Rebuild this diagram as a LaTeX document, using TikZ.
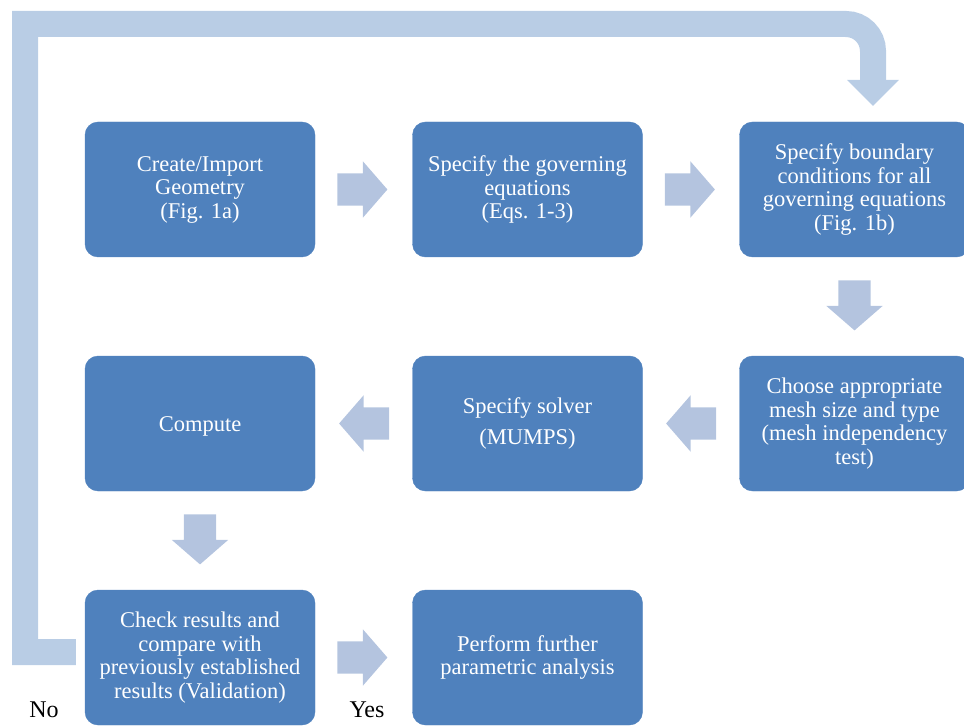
\documentclass[tikz,border=0pt]{standalone}
\usepackage{fontspec}
\setmainfont{Liberation Serif}
\usetikzlibrary{arrows.meta,calc,positioning,shapes.arrows}
\definecolor{boxblue}{HTML}{4F81BD}
\definecolor{arrowblue}{HTML}{B4C4DF}
\definecolor{loopblue}{HTML}{B9CDE5}

\begin{document}
\begin{tikzpicture}[x=1pt,y=-1pt,
  procbox/.style={draw=boxblue,fill=boxblue,rounded corners=13pt,
    minimum width=230pt,minimum height=135pt,align=center,text=white,
    inner sep=2pt,font=\fontsize{22.5}{23.5}\selectfont,
    execute at begin node={\rule{0pt}{21pt}}},
  blockarrow/.style={single arrow,fill=arrowblue,inner sep=16pt,anchor=tail,
    minimum width=56pt,minimum height=50pt,single arrow head extend=12pt,
    single arrow tip angle=98},
  looparrow/.style={draw=loopblue,line width=26pt,line join=miter,
    -{Triangle[width=50pt,length=26pt]}},
  answer/.style={font=\fontsize{24}{26}\selectfont}]
  \useasboundingbox (0,0) rectangle (964,727);

  % Boksene
  \node[procbox] (geom) at (200,189.5) {Create/Import\\Geometry\\(Fig. 1a)};
  \node[procbox] (gov) at (527.5,189.5) {Specify the governing\\equations\\(Eqs. 1-3)};
  \node[procbox] (bc) at (854.5,189.5) {Specify boundary\\conditions for all\\governing equations\\(Fig. 1b)};
  \node[procbox] (mesh) at (854.5,423.5) {Choose appropriate\\mesh size and type\\(mesh independency\\test)};
  \node[procbox] (solver) at (527.5,423.5) {Specify solver\\[8pt](MUMPS)};
  \node[procbox] (comp) at (200,423.5) {Compute};
  \node[procbox] (check) at (200,657.5) {Check results and\\compare with\\previously established\\results (Validation)};
  \node[procbox] (param) at (527.5,657.5) {Perform further\\parametric analysis};

  % Pilene mellom boksene
  \node[blockarrow] (a1) at ($(geom.east)+(22,0)$) {};
  \node[blockarrow] (a2) at ($(gov.east)+(22,0)$) {};
  \node[blockarrow,shape border rotate=270] (a3) at ($(bc.south)+(0,23)$) {};
  \node[blockarrow,shape border rotate=180] (a4) at ($(mesh.west)+(-23,0)$) {};
  \node[blockarrow,shape border rotate=180] (a5) at ($(solver.west)+(-23,0)$) {};
  \node[blockarrow,shape border rotate=270] (a6) at ($(comp.south)+(0,23)$) {};
  \node[blockarrow] (a7) at ($(check.east)+(22,0)$) {};

  % Tilbakekobling
  \coordinate (loopstart) at ($(check.west)+(-9,-5.5)$);
  \coordinate (loopend) at (873,106);
  \draw[looparrow] (loopstart) -- (25,652) -- (25,24) [rounded corners=27pt] -- (873,24) -- (loopend);

  % Svar
  \node[answer] (no) at (44,710) {No};
  \node[answer] (yes) at (367,710) {Yes};
\end{tikzpicture}
\end{document}
